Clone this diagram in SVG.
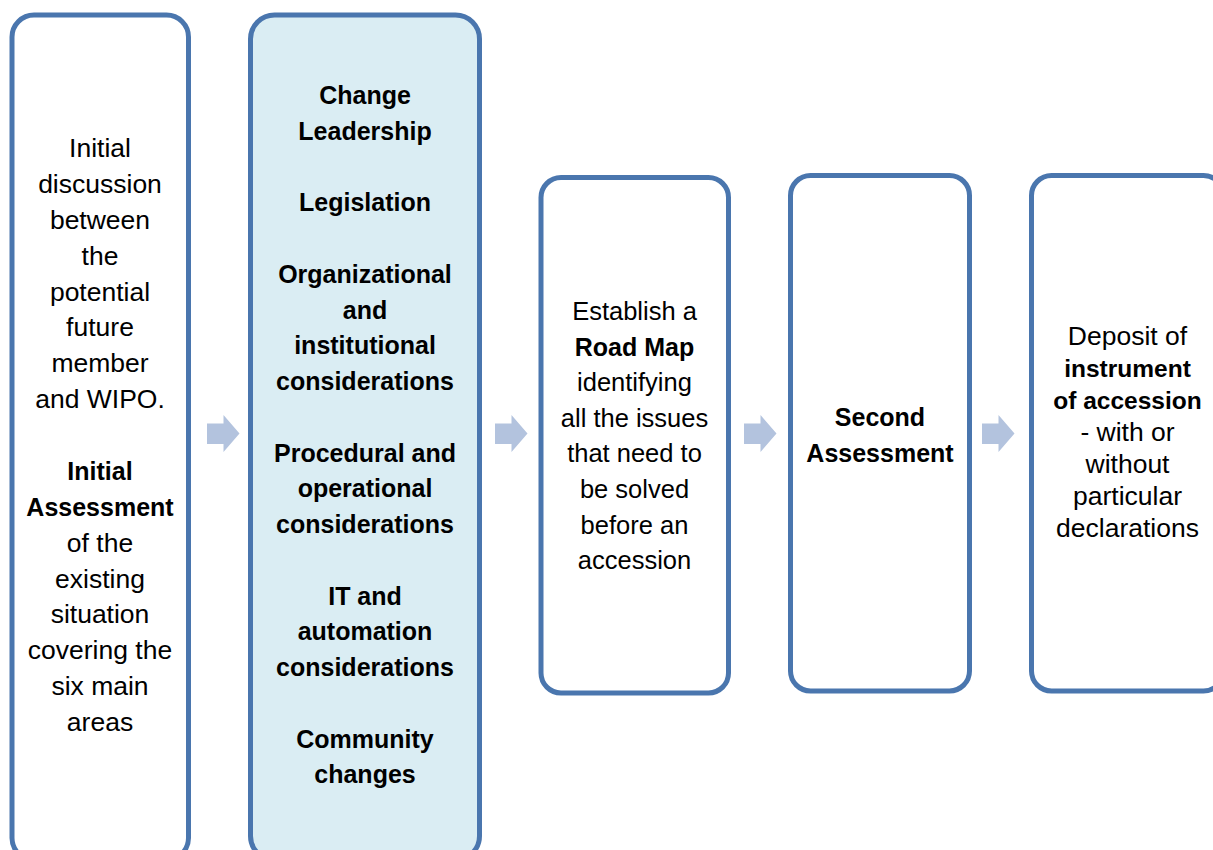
<svg xmlns="http://www.w3.org/2000/svg" xmlns:xlink="http://www.w3.org/1999/xlink" width="1213" height="850" viewBox="0 0 1213 850">
<style>
  .box { fill: #ffffff; stroke: #4a76ae; stroke-width: 5; }
  .hl { fill: #daedf3; }
  text { font-family: "Liberation Sans", Arial, sans-serif; font-size: 25.5px; fill: #000000; text-anchor: middle; }
  .r { font-size: 26.5px; }
  .b { font-weight: bold; font-size: 25px; }
  .sb { font-weight: bold; font-size: 24.5px; }
  .arrow { fill: #b3c3de; }
</style>
<defs>
  <path id="chev" d="M0,8.5 H16.5 V0 L32.5,18.5 L16.5,37 V29 H0 Z"/>
</defs>
<rect width="1213" height="850" fill="#ffffff"/>

<g id="node1">
  <rect class="box" x="12" y="15" width="176.5" height="845" rx="22"/>
  <text class="r" x="100" y="157">Initial</text>
  <text class="r" x="100" y="192.9">discussion</text>
  <text class="r" x="100" y="228.75">between</text>
  <text class="r" x="100" y="264.6">the</text>
  <text class="r" x="100" y="300.5">potential</text>
  <text class="r" x="100" y="336.4">future</text>
  <text class="r" x="100" y="372.25">member</text>
  <text class="r" x="100" y="408.1">and WIPO.</text>
  <text class="b" x="100" y="479.9">Initial</text>
  <text class="b" x="100" y="515.75">Assessment</text>
  <text class="r" x="100" y="551.6">of the</text>
  <text class="r" x="100" y="587.5">existing</text>
  <text class="r" x="100" y="623.4">situation</text>
  <text class="r" x="100" y="659.25">covering the</text>
  <text class="r" x="100" y="695.1">six main</text>
  <text class="r" x="100" y="731">areas</text>
</g>

<g id="node2">
  <rect class="box hl" x="250.5" y="15" width="229" height="845" rx="24"/>
  <text class="b" x="365" y="104">Change</text>
  <text class="b" x="365" y="139.75">Leadership</text>
  <text class="b" x="365" y="211.25">Legislation</text>
  <text class="b" x="365" y="282.75">Organizational</text>
  <text class="b" x="365" y="318.5">and</text>
  <text class="b" x="365" y="354.25">institutional</text>
  <text class="b" x="365" y="390">considerations</text>
  <text class="b" x="365" y="461.5">Procedural and</text>
  <text class="b" x="365" y="497.25">operational</text>
  <text class="b" x="365" y="533">considerations</text>
  <text class="b" x="365" y="604.5">IT and</text>
  <text class="b" x="365" y="640.25">automation</text>
  <text class="b" x="365" y="676">considerations</text>
  <text class="b" x="365" y="747.5">Community</text>
  <text class="b" x="365" y="783.25">changes</text>
</g>

<g id="node3">
  <rect class="box" x="541" y="177.5" width="187.5" height="515.5" rx="20"/>
  <text x="634.5" y="320">Establish a</text>
  <text class="b" x="634.5" y="355.6">Road Map</text>
  <text x="634.5" y="391.2">identifying</text>
  <text x="634.5" y="426.8">all the issues</text>
  <text x="634.5" y="462.4">that need to</text>
  <text x="634.5" y="498">be solved</text>
  <text x="634.5" y="533.6">before an</text>
  <text x="634.5" y="569.2">accession</text>
</g>

<g id="node4">
  <rect class="box" x="790.5" y="175.5" width="179" height="515.5" rx="20"/>
  <text class="b" x="880" y="425.5">Second</text>
  <text class="b" x="880" y="461.5">Assessment</text>
</g>

<g id="node5">
  <rect class="box" x="1031.5" y="175.5" width="192" height="515.5" rx="20"/>
  <text class="r" x="1127.5" y="345">Deposit of</text>
  <text class="sb" x="1127.5" y="377">instrument</text>
  <text class="sb" x="1127.5" y="409">of accession</text>
  <text class="r" x="1127.5" y="441">- with or</text>
  <text class="r" x="1127.5" y="473">without</text>
  <text class="r" x="1127.5" y="505">particular</text>
  <text class="r" x="1127.5" y="537">declarations</text>
</g>

<g id="connectors">
  <use xlink:href="#chev" class="arrow" x="207" y="415"/>
  <use xlink:href="#chev" class="arrow" x="495" y="415"/>
  <use xlink:href="#chev" class="arrow" x="744" y="415"/>
  <use xlink:href="#chev" class="arrow" x="982" y="415"/>
</g>
</svg>
